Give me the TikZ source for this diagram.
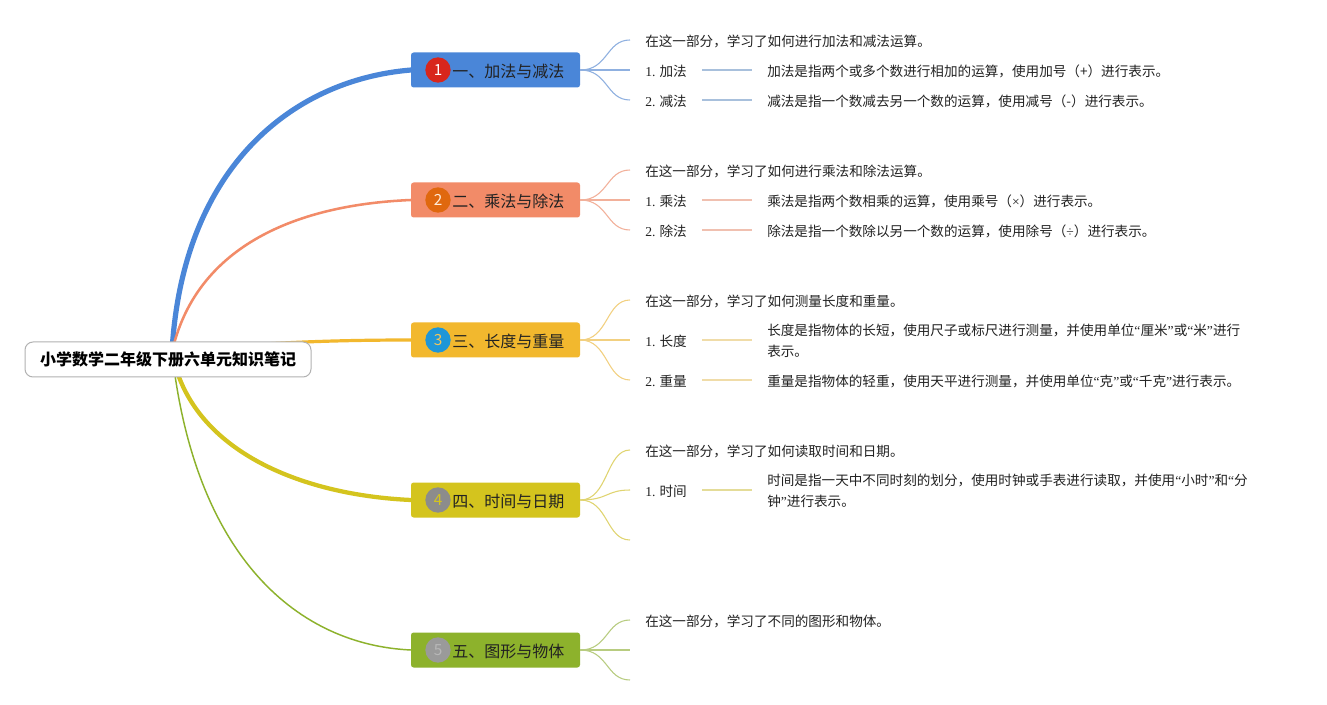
\documentclass[tikz,border=0pt]{standalone}
\usepackage{fontspec}
\setmainfont{Noto Sans CJK SC}
\newfontfamily\lat{Liberation Serif}
\newcommand{\myLq}{{\lat “}}
\newcommand{\myRq}{{\lat ”}}
\definecolor{bA}{HTML}{4A86D8}
\definecolor{bB}{HTML}{F28B68}
\definecolor{bC}{HTML}{F2B82E}
\definecolor{bD}{HTML}{D4C41E}
\definecolor{bE}{HTML}{8DB22C}
\definecolor{fA}{HTML}{8FB0E0}
\definecolor{fB}{HTML}{F2B09A}
\definecolor{fC}{HTML}{F2D080}
\definecolor{fD}{HTML}{E0D470}
\definecolor{fE}{HTML}{B8CC80}
\definecolor{sA}{HTML}{A8C0DC}
\definecolor{sB}{HTML}{F0C0B0}
\definecolor{sC}{HTML}{F0DCA8}
\definecolor{sD}{HTML}{E4DC98}
\definecolor{nA}{HTML}{D8261C}
\definecolor{nB}{HTML}{E0680E}
\definecolor{nC}{HTML}{1E96D8}
\definecolor{nD}{HTML}{8C8C8C}
\definecolor{nE}{HTML}{9A9A9A}
\definecolor{txtc}{HTML}{222222}
\begin{document}
\begin{tikzpicture}[x=0.75pt,y=-0.75pt,
  rootbox/.style={draw=black!30,line width=0.75pt,fill=white,rounded corners=6pt,minimum width=214.5pt,minimum height=26.25pt,inner sep=0pt,font=\fontsize{12}{14}\selectfont\bfseries,text=black},
  brbox/.style={rounded corners=2pt,minimum width=126.75pt,minimum height=26.25pt,inner sep=0pt},
  brlabel/.style={anchor=west,inner sep=0pt,font=\fontsize{12}{14}\selectfont,text=txtc},
  numc/.style={circle,minimum size=19pt,inner sep=0pt,font=\fontsize{11.5}{12}\selectfont},
  txt/.style={anchor=west,inner sep=0pt,font=\fontsize{10.2}{15.75}\selectfont,text=txtc,align=left},
  fan/.style={line width=0.8pt},
  shortl/.style={line width=1.3pt},
]
\useasboundingbox (0,0) rectangle (1327,705);
\fill[white] (0,0) rectangle (1327,705);

\coordinate (rc) at (172,352);
\coordinate (pA) at (411,70);
\coordinate (pB) at (411,200);
\coordinate (pC) at (411,340);
\coordinate (pD) at (411,500);
\coordinate (pE) at (411,650);

% main connectors
\draw[bA,line width=3.9pt] (rc) .. controls (182,170) and (290,80) .. (pA);
\draw[bB,line width=1.9pt] (rc) .. controls (195,250) and (290,205) .. (pB);
\draw[bC,line width=2.4pt] (rc) .. controls (250,343) and (330,340) .. (pC);
\draw[bD,line width=3.2pt] (rc) .. controls (190,450) and (300,495) .. (pD);
\draw[bE,line width=1.1pt] (rc) .. controls (195,560) and (300,645) .. (pE);

\node[rootbox] (R) at (168,359.5) {小学数学二年级下册六单元知识笔记};

% branch boxes
\node[brbox,fill=bA] (BA) at (495.5,70) {};
\node[brbox,fill=bB] (BB) at (495.5,200) {};
\node[brbox,fill=bC] (BC) at (495.5,340) {};
\node[brbox,fill=bD] (BD) at (495.5,500) {};
\node[brbox,fill=bE] (BE) at (495.5,650) {};

\node[numc,fill=nA,text=white] (NA) at (438,70) {1};
\node[numc,fill=nB,text=white!85!orange] (NB) at (438,200) {2};
\node[numc,fill=nC,text=bC!80!white] (NC) at (438,340) {3};
\node[numc,fill=nD,text=bD] (ND) at (438,500) {4};
\node[numc,fill=nE,text=black!28] (NE) at (438,650) {5};

\node[brlabel] (LA) at (452,71) {一、加法与减法};
\node[brlabel] (LB) at (452,201) {二、乘法与除法};
\node[brlabel] (LC) at (452,341) {三、长度与重量};
\node[brlabel] (LD) at (452,501) {四、时间与日期};
\node[brlabel] (LE) at (452,651) {五、图形与物体};

% fan end coordinates
\coordinate (cA1) at (630,40); \coordinate (cA2) at (630,70); \coordinate (cA3) at (630,100);
\coordinate (cB1) at (630,170); \coordinate (cB2) at (630,200); \coordinate (cB3) at (630,230);
\coordinate (cC1) at (630,300); \coordinate (cC2) at (630,340); \coordinate (cC3) at (630,380);
\coordinate (cD1) at (630,450); \coordinate (cD2) at (630,490); \coordinate (cD3) at (630,540);
\coordinate (cE1) at (630,620); \coordinate (cE2) at (630,650); \coordinate (cE3) at (630,680);

\foreach \b/\c in {A/fA,B/fB,C/fC,D/fD,E/fE}{
  \foreach \i in {1,2,3}{
    \draw[fan,\c] (B\b.east) .. controls +(28,0) and +(-24,0) .. (c\b\i);
  }
}

% branch A
\node[txt] (tA1) at (645,41) {在这一部分，学习了如何进行加法和减法运算。};
\node[txt] (tA2) at (645,71) {{\lat 1.} 加法};
\node[txt] (tA3) at (645,101) {{\lat 2.} 减法};
\node[txt] (dA2) at (767,71) {加法是指两个或多个数进行相加的运算，使用加号（+）进行表示。};
\node[txt] (dA3) at (767,101) {减法是指一个数减去另一个数的运算，使用减号（-）进行表示。};
\coordinate (sA2a) at (702,70); \coordinate (sA2b) at (752,70);
\coordinate (sA3a) at (702,100); \coordinate (sA3b) at (752,100);
\draw[shortl,sA] (sA2a) -- (sA2b);
\draw[shortl,sA] (sA3a) -- (sA3b);

% branch B
\node[txt] (tB1) at (645,171) {在这一部分，学习了如何进行乘法和除法运算。};
\node[txt] (tB2) at (645,201) {{\lat 1.} 乘法};
\node[txt] (tB3) at (645,231) {{\lat 2.} 除法};
\node[txt] (dB2) at (767,201) {乘法是指两个数相乘的运算，使用乘号（{\lat ×}）进行表示。};
\node[txt] (dB3) at (767,231) {除法是指一个数除以另一个数的运算，使用除号（{\lat ÷}）进行表示。};
\coordinate (sB2a) at (702,200); \coordinate (sB2b) at (752,200);
\coordinate (sB3a) at (702,230); \coordinate (sB3b) at (752,230);
\draw[shortl,sB] (sB2a) -- (sB2b);
\draw[shortl,sB] (sB3a) -- (sB3b);

% branch C
\node[txt] (tC1) at (645,301) {在这一部分，学习了如何测量长度和重量。};
\node[txt] (tC2) at (645,341) {{\lat 1.} 长度};
\node[txt] (tC3) at (645,381) {{\lat 2.} 重量};
\node[txt] (dC2) at (767,341) {长度是指物体的长短，使用尺子或标尺进行测量，并使用单位\myLq 厘米\myRq 或\myLq 米\myRq 进行\\表示。};
\node[txt] (dC3) at (767,381) {重量是指物体的轻重，使用天平进行测量，并使用单位\myLq 克\myRq 或\myLq 千克\myRq 进行表示。};
\coordinate (sC2a) at (702,340); \coordinate (sC2b) at (752,340);
\coordinate (sC3a) at (702,380); \coordinate (sC3b) at (752,380);
\draw[shortl,sC] (sC2a) -- (sC2b);
\draw[shortl,sC] (sC3a) -- (sC3b);

% branch D
\node[txt] (tD1) at (645,451) {在这一部分，学习了如何读取时间和日期。};
\node[txt] (tD2) at (645,491) {{\lat 1.} 时间};
\node[txt] (dD2) at (767,491) {时间是指一天中不同时刻的划分，使用时钟或手表进行读取，并使用\myLq 小时\myRq 和\myLq 分\\钟\myRq 进行表示。};
\coordinate (sD2a) at (702,490); \coordinate (sD2b) at (752,490);
\draw[shortl,sD] (sD2a) -- (sD2b);

% branch E
\node[txt] (tE1) at (645,621) {在这一部分，学习了不同的图形和物体。};
\end{tikzpicture}
\end{document}
